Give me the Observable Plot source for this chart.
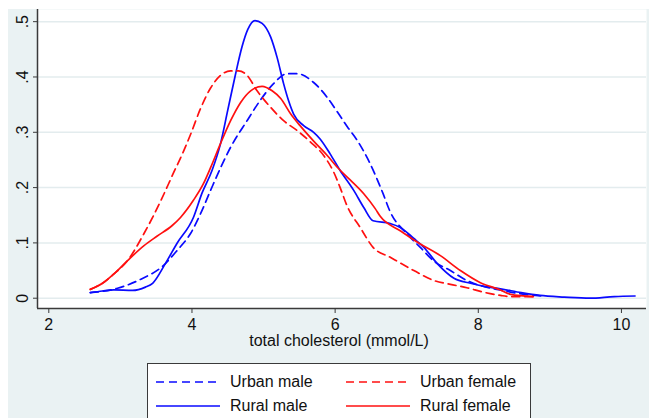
<!DOCTYPE html>
<html>
<head>
<meta charset="utf-8">
<script src="https://cdn.jsdelivr.net/npm/d3@7"></script>
<script src="https://cdn.jsdelivr.net/npm/@observablehq/plot@0.6"></script>
<style>
  html, body { margin: 0; padding: 0; background: white; }
  #wrap { position: relative; width: 649px; height: 418px; overflow: hidden; background: white; font-family: "Liberation Sans", Arial, Helvetica, sans-serif; }
  #bg { position: absolute; left: 8px; top: 9px; right: 0; bottom: 0; background: #eaf2f3; }
  #chart { position: absolute; left: 0; top: 0; }
  #legend { position: absolute; left: 147px; top: 363px; width: 384px; height: 70px; background: white; border: 1.5px solid #3a3a3a; box-sizing: border-box; }
  .item { position: absolute; height: 20px; font-size: 16px; line-height: 20px; color: #111; white-space: nowrap; }
  .item svg { position: absolute; left: 0; top: 0; }
  .item span { position: absolute; left: 75px; top: 0; }
</style>
</head>
<body>
<div id="wrap">
  <div id="bg"></div>
  <div id="chart"></div>
  <div id="legend"></div>
</div>
<script>
// ---- data ----
const urbanMale = [[2.58,0.010],[2.96,0.018],[3.28,0.034],[3.60,0.059],[3.79,0.086],[3.98,0.117],[4.12,0.153],[4.26,0.195],[4.40,0.236],[4.54,0.273],[4.77,0.321],[4.95,0.357],[5.14,0.388],[5.33,0.406],[5.47,0.406],[5.70,0.390],[5.89,0.363],[6.03,0.337],[6.17,0.310],[6.31,0.285],[6.49,0.243],[6.67,0.189],[6.77,0.156],[7.00,0.117],[7.19,0.092],[7.37,0.068],[7.61,0.050],[7.84,0.032],[8.05,0.022],[8.30,0.015],[8.60,0.008],[8.90,0.004]];
const ruralMale = [[2.58,0.010],[2.75,0.013],[2.91,0.015],[3.17,0.014],[3.35,0.020],[3.45,0.027],[3.63,0.063],[3.79,0.099],[4.02,0.146],[4.14,0.190],[4.28,0.231],[4.40,0.280],[4.50,0.340],[4.60,0.400],[4.70,0.455],[4.78,0.486],[4.88,0.502],[4.98,0.497],[5.10,0.472],[5.19,0.435],[5.28,0.388],[5.35,0.357],[5.42,0.333],[5.56,0.312],[5.70,0.300],[5.79,0.288],[5.93,0.261],[6.07,0.231],[6.26,0.195],[6.40,0.164],[6.53,0.140],[6.77,0.135],[6.91,0.128],[7.10,0.108],[7.24,0.092],[7.43,0.062],[7.66,0.036],[7.89,0.027],[8.10,0.021],[8.31,0.017],[8.60,0.010],[8.86,0.005],[9.20,0.002],[9.56,0.000],[9.90,0.003],[10.19,0.004]];
const urbanFemale = [[2.58,0.016],[2.75,0.027],[2.91,0.044],[3.10,0.068],[3.33,0.117],[3.56,0.175],[3.74,0.226],[3.88,0.265],[3.98,0.296],[4.12,0.343],[4.26,0.380],[4.40,0.403],[4.54,0.411],[4.65,0.411],[4.77,0.403],[4.91,0.375],[5.10,0.345],[5.28,0.321],[5.47,0.303],[5.65,0.283],[5.84,0.258],[5.98,0.228],[6.07,0.200],[6.17,0.166],[6.35,0.128],[6.53,0.092],[6.77,0.074],[7.10,0.050],[7.38,0.032],[7.61,0.025],[7.84,0.019],[8.07,0.011],[8.31,0.005],[8.45,0.003],[8.77,0.003]];
const ruralFemale = [[2.58,0.016],[2.75,0.027],[2.91,0.044],[3.10,0.068],[3.33,0.095],[3.51,0.112],[3.72,0.131],[3.84,0.146],[4.02,0.177],[4.16,0.207],[4.26,0.236],[4.40,0.280],[4.54,0.321],[4.68,0.354],[4.82,0.375],[4.98,0.383],[5.12,0.375],[5.24,0.361],[5.38,0.333],[5.51,0.312],[5.70,0.284],[5.89,0.258],[6.05,0.234],[6.21,0.214],[6.40,0.189],[6.56,0.162],[6.63,0.148],[6.91,0.122],[7.19,0.098],[7.47,0.077],[7.75,0.050],[8.03,0.028],[8.31,0.015],[8.45,0.007],[8.77,0.003]];

const seriesNames = ["Urban male", "Rural male", "Urban female", "Rural female"];
const xTicks = [2, 4, 6, 8, 10];
const yTicks = [0, 0.1, 0.2, 0.3, 0.4, 0.5];
const yTickLabels = ["0", ".1", ".2", ".3", ".4", ".5"];
const xLabel = "total cholesterol (mmol/L)";
const xDomain = [1.842, 10.35];
const yDomain = [-0.0186, 0.522];

// ---- styles ----
const BLUE = "#0a0aff", RED = "#ff1010";
const style = {
  "Urban male":   {stroke: BLUE, dash: "8,5"},
  "Rural male":   {stroke: BLUE, dash: null},
  "Urban female": {stroke: RED,  dash: "8,5"},
  "Rural female": {stroke: RED,  dash: null}
};
const dataBySeries = {"Urban male": urbanMale, "Rural male": ruralMale, "Urban female": urbanFemale, "Rural female": ruralFemale};

const lineMarks = seriesNames.map(name => Plot.line(dataBySeries[name], {
  x: d => d[0], y: d => d[1],
  stroke: style[name].stroke, strokeWidth: 1.7,
  strokeDasharray: style[name].dash, curve: "monotone-x"
}));

const AXIS = "#3a3a3a";
const chart = Plot.plot({
  width: 649, height: 360,
  marginLeft: 37, marginRight: 3, marginTop: 9, marginBottom: 52,
  x: {type: "linear", domain: xDomain},
  y: {type: "linear", domain: yDomain},
  style: {background: "transparent", fontFamily: "'Liberation Sans', Arial, Helvetica, sans-serif", fontSize: "16px", color: "#111"},
  marks: [
    Plot.frame({fill: "white", stroke: null}),
    Plot.gridY(yTicks, {stroke: "#e3ecee", strokeOpacity: 1, strokeWidth: 1.5}),
    ...lineMarks,
    Plot.ruleX([xDomain[0]], {stroke: AXIS, strokeWidth: 1.5}),
    Plot.ruleY([yDomain[0]], {stroke: AXIS, strokeWidth: 1.5}),
    Plot.axisX(xTicks, {tickSize: 5, tickPadding: 5, stroke: AXIS, label: null, fontSize: 16, fill: "#111"}),
    Plot.axisY(yTicks, {tickSize: 4, tickPadding: 6, stroke: AXIS, label: null, tickRotate: -90,
      tickFormat: (d, i) => yTickLabels[i], fontSize: 16, fill: "#111"}),
    Plot.text([xLabel], {frameAnchor: "bottom", dy: 37, dx: -3, text: d => d, fontSize: 16, fill: "#111"})
  ]
});
document.getElementById("chart").appendChild(chart);

// ---- legend (HTML, below the SVG) ----
const legend = document.getElementById("legend");
const pos = {
  "Urban male":   {left: 7,   top: 8},
  "Rural male":   {left: 7,   top: 32},
  "Urban female": {left: 197, top: 8},
  "Rural female": {left: 197, top: 32}
};
for (const name of seriesNames) {
  const it = document.createElement("div");
  it.className = "item";
  it.style.left = pos[name].left + "px";
  it.style.top = pos[name].top + "px";
  const s = style[name];
  it.innerHTML = `<svg width="66" height="20"><line x1="1" y1="10" x2="65" y2="10" stroke="${s.stroke}" stroke-width="1.7" ${s.dash ? `stroke-dasharray="${s.dash}"` : ""}/></svg><span>${name}</span>`;
  legend.appendChild(it);
}
</script>
</body>
</html>
